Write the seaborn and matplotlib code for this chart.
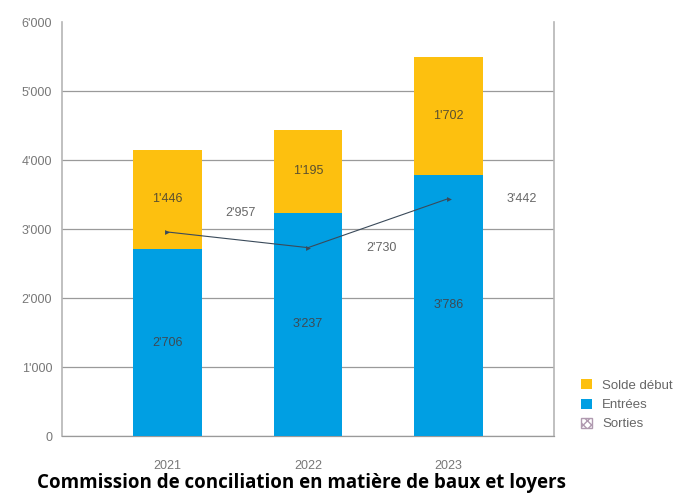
import numpy as np
import pandas as pd
import matplotlib.pyplot as plt
import seaborn as sns
from matplotlib.patches import Patch
from matplotlib.ticker import FuncFormatter

# data
years = ["2021", "2022", "2023"]
entrees = [2706, 3237, 3786]
solde_debut = [1446, 1195, 1702]
sorties = [2957, 2730, 3442]

yellow = "#FDC00F"
blue = "#009FE3"

sns.set_theme(style="white")
plt.rcParams["font.family"] = ["Liberation Sans", "DejaVu Sans"]

df = pd.DataFrame({"year": years, "entrees": entrees, "solde": solde_debut, "sorties": sorties})
df["total"] = df["entrees"] + df["solde"]

fig = plt.figure(figsize=(6.84, 4.97), dpi=100)
ax = fig.add_axes([0.0906, 0.1227, 0.7194, 0.833])

# stacked bars: total in yellow, entrées in blue over it
sns.barplot(data=df, x="year", y="total", color=yellow, width=0.49, saturation=1, linewidth=0, ax=ax, zorder=2)
sns.barplot(data=df, x="year", y="entrees", color=blue, width=0.49, saturation=1, linewidth=0, ax=ax, zorder=3)

# sorties line
xs = np.arange(len(years))
sns.lineplot(x=xs, y=df["sorties"], color="#3a4a5a", linewidth=0.8, marker=">", markersize=3.5,
             markeredgewidth=0, ax=ax, zorder=5)

fmt = lambda v: f"{int(v):,}".replace(",", "'")

for i in range(len(years)):
    ax.text(i, entrees[i] / 2, fmt(entrees[i]), ha="center", va="center", fontsize=9, color="#3d4a55", zorder=6)
    ax.text(i, entrees[i] + solde_debut[i] / 2, fmt(solde_debut[i]), ha="center", va="center",
            fontsize=9, color="#5a5030", zorder=6)

label_dy = [280, 0, 0]
for i, v in enumerate(sorties):
    ax.text(i + 0.52, v + label_dy[i], fmt(v), ha="center", va="center", fontsize=9, color="#666666", zorder=6)

ax.set_xlim(-0.75, 2.75)
ax.set_ylim(0, 6000)
ax.set_yticks(range(0, 6001, 1000))
ax.yaxis.set_major_formatter(FuncFormatter(lambda v, p: fmt(v)))
ax.grid(axis="y", color="#9a9a9a", linewidth=0.9, zorder=0)
ax.set_axisbelow(True)
ax.yaxis.get_gridlines()[-1].set_visible(False)
ax.set_xlabel("")
ax.set_ylabel("")
ax.tick_params(axis="y", length=0, pad=7, labelsize=9, labelcolor="#777777")
ax.tick_params(axis="x", length=0, pad=17, labelsize=9, labelcolor="#777777")

ax.spines["top"].set_visible(False)
ax.spines["bottom"].set_color("#9a9a9a")
ax.spines["bottom"].set_linewidth(0.9)
for s in ["left", "right"]:
    ax.spines[s].set_visible(True)
    ax.spines[s].set_color("#b5b5b5")
    ax.spines[s].set_linewidth(1.2)

handles = [
    Patch(facecolor=yellow, edgecolor="none", label="Solde début"),
    Patch(facecolor=blue, edgecolor="none", label="Entrées"),
    Patch(facecolor="white", edgecolor="#b09ab0", hatch="xxxx", label="Sorties"),
]
fig.legend(handles=handles, loc="lower left", bbox_to_anchor=(0.832, 0.11), frameon=False,
           fontsize=9.5, handlelength=0.8, handleheight=0.8, handletextpad=0.8,
           labelspacing=0.5, labelcolor="#666666")

fig.text(0.441, 0.028, "Commission de conciliation en matière de baux et loyers", ha="center", va="center",
         fontsize=13.5, fontweight="bold", color="black", family=["Open Sans", "DejaVu Sans"])

fig.savefig("out.png", dpi=100)
